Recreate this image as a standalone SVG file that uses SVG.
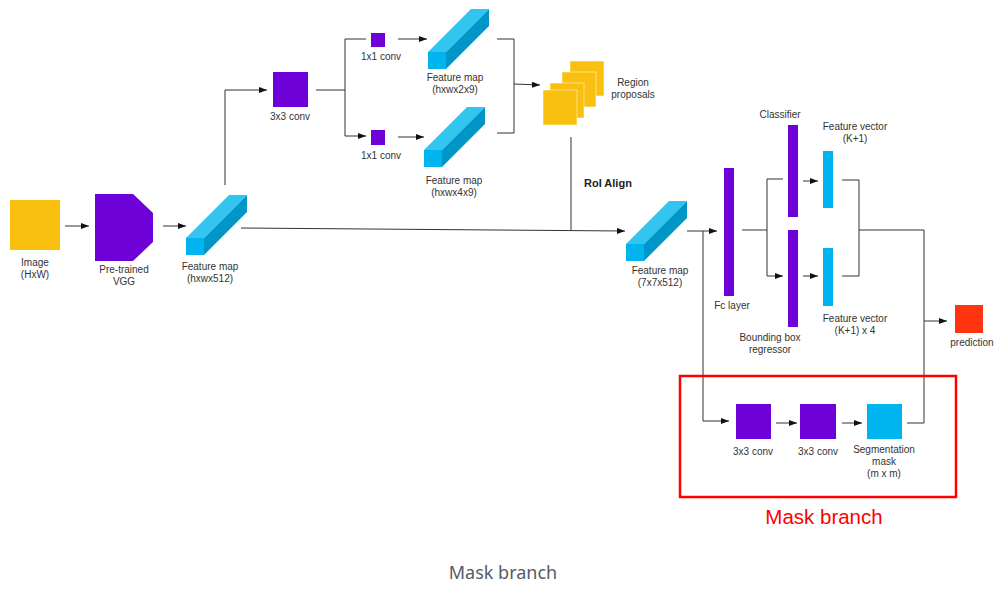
<svg xmlns="http://www.w3.org/2000/svg" width="1003" height="599" viewBox="0 0 1003 599">
<style>
.lbl{font-family:"Liberation Sans",Arial,sans-serif;font-size:10px;fill:#333;text-anchor:middle}
.bold{font-weight:bold;text-anchor:start;font-size:11px;fill:#222}
.ln{fill:none;stroke:#333;stroke-width:1}
.ar{marker-end:url(#ah)}
.purple{fill:#6E00D8}
.yellow{fill:#F9C00F}
.cyan{fill:#00B5EF}
.rp{fill:#F9C00F;stroke:#fff;stroke-width:0.5}
</style>
<defs>
<marker id="ah" markerUnits="userSpaceOnUse" markerWidth="8" markerHeight="6" refX="8" refY="3" orient="auto">
<path d="M0,0 L8,3 L0,6 Z" fill="#111"/>
</marker>
<g id="cuboid">
<path d="M0,0 L18,0 L61,-43 L43,-43 Z" fill="#33C5F0"/>
<path d="M18,0 L61,-43 L61,-26 L18,17 Z" fill="#0096C7"/>
<rect x="0" y="0" width="18" height="17" fill="#00B5EF"/>
</g>
</defs>
<rect width="1003" height="599" fill="#fff"/>

<g id="connectors">
<line class="ln ar" x1="65" y1="226" x2="89" y2="226"/>
<line class="ln ar" x1="163" y1="226" x2="186" y2="226"/>
<polyline class="ln ar" points="225,185 225,90 267,90"/>
<line class="ln" x1="316" y1="90" x2="345" y2="90"/>
<polyline class="ln ar" points="366,39 345,39 345,136 366,136"/>
<line class="ln ar" x1="398" y1="39" x2="427" y2="39"/>
<line class="ln ar" x1="398" y1="137" x2="424" y2="137"/>
<polyline class="ln" points="497,39 514,39 514,133 497,133"/>
<line class="ln ar" x1="514" y1="84" x2="540" y2="85"/>
<line class="ln ar" x1="241" y1="228" x2="625" y2="231"/>
<line class="ln" x1="571" y1="137" x2="571" y2="230"/>
<line class="ln ar" x1="687" y1="231" x2="717" y2="231"/>
<polyline class="ln ar" points="703,231 703,421 729,421"/>
<line class="ln" x1="742" y1="230" x2="767" y2="230"/>
<polyline class="ln ar" points="783,179 767,179 767,276 783,276"/>
<line class="ln ar" x1="803" y1="181" x2="818" y2="181"/>
<line class="ln ar" x1="803" y1="276" x2="818" y2="276"/>
<polyline class="ln" points="842,180 859,180 859,276 842,276"/>
<polyline class="ln" points="859,230 924,230 924,423 907,423"/>
<line class="ln ar" x1="924" y1="321" x2="947" y2="321"/>
<line class="ln ar" x1="776" y1="423" x2="797" y2="423"/>
<line class="ln ar" x1="842" y1="423" x2="862" y2="423"/>
</g>

<g id="image">
<rect class="yellow" x="10" y="200" width="50" height="50"/>
<text class="lbl" x="35" y="266">Image</text>
<text class="lbl" x="35" y="278">(HxW)</text>
</g>

<g id="vgg">
<polygon class="purple" points="95,194 133,194 153,213 153,242 133,261 95,261"/>
<text class="lbl" x="124" y="273">Pre-trained</text>
<text class="lbl" x="124" y="285">VGG</text>
</g>

<g id="fmap-512">
<use href="#cuboid" transform="translate(186,238)"/>
<text class="lbl" x="210" y="270">Feature map</text>
<text class="lbl" x="210" y="282">(hxwx512)</text>
</g>

<g id="conv3x3">
<rect class="purple" x="273" y="72" width="35" height="35"/>
<text class="lbl" x="290" y="120">3x3 conv</text>
</g>

<g id="conv1x1-top">
<rect class="purple" x="371" y="33" width="14" height="14"/>
<text class="lbl" x="381" y="60">1x1 conv</text>
</g>

<g id="conv1x1-bottom">
<rect class="purple" x="371" y="130" width="14" height="15"/>
<text class="lbl" x="381" y="159">1x1 conv</text>
</g>

<g id="fmap-2x9">
<use href="#cuboid" transform="translate(428,52)"/>
<text class="lbl" x="455" y="81">Feature map</text>
<text class="lbl" x="455" y="93">(hxwx2x9)</text>
</g>

<g id="fmap-4x9">
<use href="#cuboid" transform="translate(424,150)"/>
<text class="lbl" x="454" y="184">Feature map</text>
<text class="lbl" x="454" y="196">(hxwx4x9)</text>
</g>

<g id="region-proposals">
<rect class="rp" x="570" y="61" width="34" height="35"/>
<rect class="rp" x="562" y="72" width="34" height="35"/>
<rect class="rp" x="550" y="83" width="34" height="35"/>
<rect class="rp" x="543" y="90" width="34" height="35"/>
<text class="lbl" x="633" y="86">Region</text>
<text class="lbl" x="633" y="98">proposals</text>
</g>

<g id="roi-align">
<text class="lbl bold" x="584" y="187">RoI Align</text>
</g>

<g id="fmap-7x7">
<use href="#cuboid" transform="translate(626,244)"/>
<text class="lbl" x="660" y="274">Feature map</text>
<text class="lbl" x="660" y="286">(7x7x512)</text>
</g>

<g id="fc-layer">
<rect class="purple" x="724" y="168" width="10" height="128"/>
<text class="lbl" x="732" y="309">Fc layer</text>
</g>

<g id="classifier">
<rect class="purple" x="788" y="125" width="10" height="92"/>
<text class="lbl" x="780" y="118">Classifier</text>
</g>

<g id="bbox-regressor">
<rect class="purple" x="788" y="230" width="10" height="97"/>
<text class="lbl" x="770" y="341">Bounding box</text>
<text class="lbl" x="770" y="353">regressor</text>
</g>

<g id="feature-vector-cls">
<rect class="cyan" x="823" y="151" width="10" height="57"/>
<text class="lbl" x="855" y="130">Feature vector</text>
<text class="lbl" x="855" y="142">(K+1)</text>
</g>

<g id="feature-vector-box">
<rect class="cyan" x="823" y="248" width="10" height="58"/>
<text class="lbl" x="855" y="322">Feature vector</text>
<text class="lbl" x="855" y="334">(K+1) x 4</text>
</g>

<g id="prediction">
<rect x="955" y="305" width="28" height="28" fill="#FF3510"/>
<text class="lbl" x="972" y="346">prediction</text>
</g>

<g id="mask-branch">
<rect x="680" y="376" width="276" height="121" fill="none" stroke="#FF0000" stroke-width="2.5"/>
<text x="824" y="524" font-family="'Liberation Sans',Arial,sans-serif" font-size="20.5" fill="#FF0000" text-anchor="middle">Mask branch</text>
</g>

<g id="mask-conv1">
<rect class="purple" x="736" y="404" width="35" height="35"/>
<text class="lbl" x="753" y="455">3x3 conv</text>
</g>

<g id="mask-conv2">
<rect class="purple" x="800" y="404" width="36" height="35"/>
<text class="lbl" x="818" y="455">3x3 conv</text>
</g>

<g id="seg-mask">
<rect class="cyan" x="867" y="404" width="35" height="35"/>
<text class="lbl" x="884" y="453">Segmentation</text>
<text class="lbl" x="884" y="465">mask</text>
<text class="lbl" x="884" y="477">(m x m)</text>
</g>

<g id="caption">
<text x="503" y="579" font-family="'Noto Sans',sans-serif" font-size="18" fill="#555b66" text-anchor="middle">Mask branch</text>
</g>
</svg>
